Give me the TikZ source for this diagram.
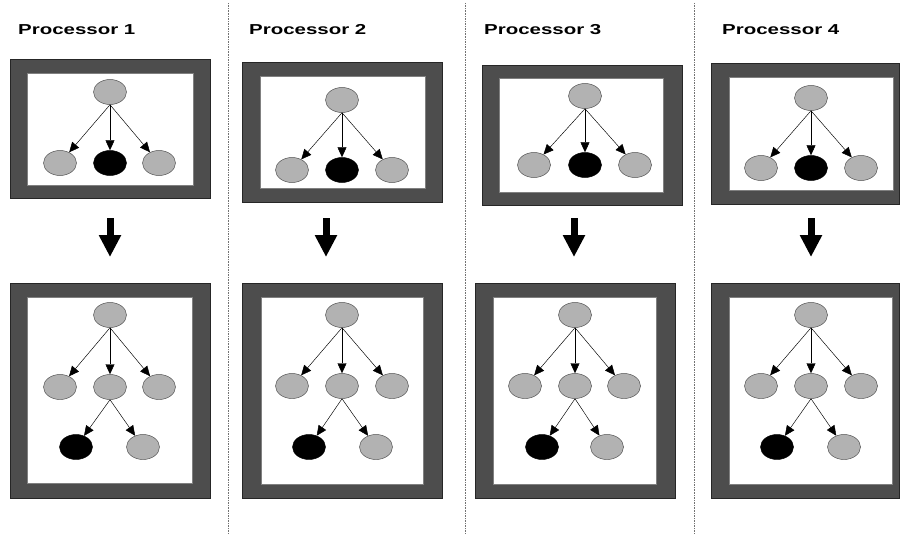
\documentclass[tikz,border=0pt]{standalone}
\usepackage{fontspec}
\usepackage{tikz}
\usetikzlibrary{shapes.geometric}
\usetikzlibrary{arrows.meta}
\newfontfamily\arialfont{Liberation Sans}
\definecolor{framegray}{RGB}{77,77,77}
\definecolor{nodegray}{RGB}{178,178,178}
\tikzset{
  frame/.style={fill=framegray, draw=black!85, line width=0.4pt},
  pane/.style={fill=white, draw=black!50, line width=0.3pt},
  gnode/.style={ellipse, draw=black!70, fill=nodegray, line width=0.4pt,
    minimum width=0.99cm, minimum height=0.75cm, inner sep=0pt},
  bnode/.style={gnode, fill=black, draw=black},
  edge/.style={-{Triangle[length=0.3cm,width=0.27cm]}, line width=0.4pt},
  bigarrow/.style={line width=0.21cm, -{Triangle[length=0.66cm,width=0.63cm]}},
  proc/.style={anchor=west, inner sep=0pt, font=\arialfont\bfseries\fontsize{12.3}{14}\selectfont},
  sep/.style={densely dotted, black!55, line width=0.4pt}
}

\begin{document}
\begin{tikzpicture}[x=0.03cm, y=-0.03cm]
\useasboundingbox (0,0) rectangle (900,534);
% separators
\draw[sep] (228,3) -- (228,534);
\draw[sep] (465,3) -- (465,534);
\draw[sep] (694,3) -- (694,534);

% processor 1
\node[proc] (p1) at (18,30) {\scalebox{1.42}[1]{Processor 1}};
\filldraw[frame] (10,59) rectangle (210,198);
\filldraw[pane] (27,73) rectangle (193,185);
\node[gnode] (r1) at (110,92) {};
\node[gnode] (a1) at (60,163) {}; \node[bnode] (b1) at (110,163) {}; \node[gnode] (c1) at (159,163) {};
\draw[edge] (r1.south) -- (a1); \draw[edge] (r1.south) -- (b1); \draw[edge] (r1.south) -- (c1);
\coordinate (s1) at (110,218); \coordinate (e1) at (110,257);
\draw[bigarrow] (s1) -- (e1);
\filldraw[frame] (10,283) rectangle (210,498);
\filldraw[pane] (27,297) rectangle (192,483);
\node[gnode] (R1) at (110,315) {};
\node[gnode] (A1) at (60,387) {}; \node[gnode] (B1) at (110,387) {}; \node[gnode] (C1) at (159,387) {};
\node[bnode] (D1) at (76,447) {}; \node[gnode] (E1) at (143,447) {};
\draw[edge] (R1.south) -- (A1); \draw[edge] (R1.south) -- (B1); \draw[edge] (R1.south) -- (C1);
\draw[edge] (B1.south) -- (D1); \draw[edge] (B1.south) -- (E1);

% processor 2
\node[proc] (p2) at (249,30) {\scalebox{1.42}[1]{Processor 2}};
\filldraw[frame] (242,62) rectangle (442,202);
\filldraw[pane] (260,76) rectangle (425,188);
\node[gnode] (r2) at (342,100) {};
\node[gnode] (a2) at (292,170) {}; \node[bnode] (b2) at (342,170) {}; \node[gnode] (c2) at (392,170) {};
\draw[edge] (r2.south) -- (a2); \draw[edge] (r2.south) -- (b2); \draw[edge] (r2.south) -- (c2);
\coordinate (s2) at (326,218); \coordinate (e2) at (326,257);
\draw[bigarrow] (s2) -- (e2);
\filldraw[frame] (242,283) rectangle (442,498);
\filldraw[pane] (261,297) rectangle (423,484);
\node[gnode] (R2) at (342,315) {};
\node[gnode] (A2) at (292,386) {}; \node[gnode] (B2) at (342,386) {}; \node[gnode] (C2) at (392,386) {};
\node[bnode] (D2) at (309,447) {}; \node[gnode] (E2) at (376,447) {};
\draw[edge] (R2.south) -- (A2); \draw[edge] (R2.south) -- (B2); \draw[edge] (R2.south) -- (C2);
\draw[edge] (B2.south) -- (D2); \draw[edge] (B2.south) -- (E2);

% processor 3
\node[proc] (p3) at (484,30) {\scalebox{1.42}[1]{Processor 3}};
\filldraw[frame] (482,65) rectangle (682,205);
\filldraw[pane] (499,78) rectangle (663,192);
\node[gnode] (r3) at (585,96) {};
\node[gnode] (a3) at (534,165) {}; \node[bnode] (b3) at (585,165) {}; \node[gnode] (c3) at (635,165) {};
\draw[edge] (r3.south) -- (a3); \draw[edge] (r3.south) -- (b3); \draw[edge] (r3.south) -- (c3);
\coordinate (s3) at (574,218); \coordinate (e3) at (574,257);
\draw[bigarrow] (s3) -- (e3);
\filldraw[frame] (475,283) rectangle (675,498);
\filldraw[pane] (493,297) rectangle (656,484);
\node[gnode] (R3) at (575,315) {};
\node[gnode] (A3) at (525,386) {}; \node[gnode] (B3) at (575,386) {}; \node[gnode] (C3) at (624,386) {};
\node[bnode] (D3) at (542,447) {}; \node[gnode] (E3) at (607,447) {};
\draw[edge] (R3.south) -- (A3); \draw[edge] (R3.south) -- (B3); \draw[edge] (R3.south) -- (C3);
\draw[edge] (B3.south) -- (D3); \draw[edge] (B3.south) -- (E3);

% processor 4
\node[proc] (p4) at (722,30) {\scalebox{1.42}[1]{Processor 4}};
\filldraw[frame] (711,63) rectangle (899,204);
\filldraw[pane] (729,77) rectangle (893,190);
\node[gnode] (r4) at (811,98) {};
\node[gnode] (a4) at (761,168) {}; \node[bnode] (b4) at (811,168) {}; \node[gnode] (c4) at (861,168) {};
\draw[edge] (r4.south) -- (a4); \draw[edge] (r4.south) -- (b4); \draw[edge] (r4.south) -- (c4);
\coordinate (s4) at (811,218); \coordinate (e4) at (811,257);
\draw[bigarrow] (s4) -- (e4);
\filldraw[frame] (711,283) rectangle (899,498);
\filldraw[pane] (729,297) rectangle (892,484);
\node[gnode] (R4) at (811,315) {};
\node[gnode] (A4) at (761,386) {}; \node[gnode] (B4) at (811,386) {}; \node[gnode] (C4) at (861,386) {};
\node[bnode] (D4) at (777,447) {}; \node[gnode] (E4) at (844,447) {};
\draw[edge] (R4.south) -- (A4); \draw[edge] (R4.south) -- (B4); \draw[edge] (R4.south) -- (C4);
\draw[edge] (B4.south) -- (D4); \draw[edge] (B4.south) -- (E4);
\end{tikzpicture}
\end{document}
